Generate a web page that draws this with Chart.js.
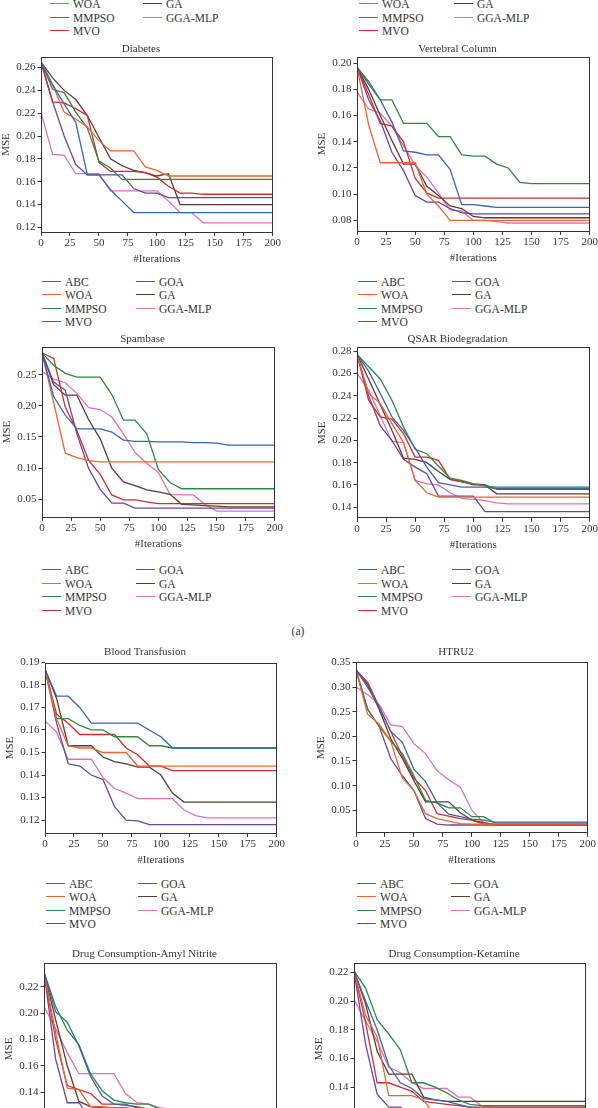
<!DOCTYPE html>
<html lang="en">
<head>
<meta charset="UTF-8">
<title>MSE convergence curves</title>
<script src="https://cdn.jsdelivr.net/npm/chart.js"></script>
<style>
    html, body { margin: 0; padding: 0; background: #fff; }
    body {
        width: 598px; height: 1108px; position: relative; overflow: hidden;
        font-family: 'Liberation Serif', 'DejaVu Serif', serif; color: #333;
    }
    canvas { position: absolute; }
    .item { position: absolute; height: 14px; line-height: 14px; font-size: 11.5px; white-space: nowrap; }
    .item .swatch { position: absolute; left: 0; top: 6px; width: 19px; height: 0; border-top: 1.5px solid; }
    .item .label { position: absolute; left: 23px; top: 0; }
    #tag { position: absolute; left: 288px; top: 625px; width: 20px; text-align: center; font-size: 11.5px; }
</style>
</head>
<body>
<div id="tag">(a)</div>
<script>
// ---- data ----
const iterations = [0, 10, 20, 30, 40, 50, 60, 70, 80, 90, 100, 110, 120, 130, 140, 150, 160, 170, 180, 190, 200];
const iterationTicks = [0, 25, 50, 75, 100, 125, 150, 175, 200];
const algorithms = ['ABC', 'WOA', 'MMPSO', 'MVO', 'GOA', 'GA', 'GGA-MLP'];

// one row per algorithm, in the order above
const diabetes = [
    [0.265,0.245,0.228,0.212,0.166,0.166,0.153,0.143,0.133,0.133,0.133, 0.133,0.133,0.133,0.133,0.133,0.133,0.133,0.133,0.133,0.133],
    [0.265,0.245,0.221,0.215,0.208,0.196,0.187,0.187,0.187,0.173,0.170, 0.165,0.165,0.165,0.165,0.165,0.165,0.165,0.165,0.165,0.165],
    [0.265,0.241,0.238,0.221,0.207,0.178,0.172,0.162,0.162,0.162,0.162, 0.162,0.162,0.162,0.162,0.162,0.162,0.162,0.162,0.162,0.162],
    [0.265,0.230,0.229,0.224,0.218,0.177,0.169,0.169,0.169,0.168,0.164, 0.156,0.150,0.150,0.149,0.149,0.149,0.149,0.149,0.149,0.149],
    [0.265,0.230,0.200,0.175,0.166,0.166,0.166,0.166,0.154,0.150,0.150, 0.146,0.146,0.146,0.146,0.146,0.146,0.146,0.146,0.146,0.146],
    [0.265,0.251,0.240,0.232,0.218,0.199,0.180,0.174,0.170,0.168,0.165, 0.167,0.140,0.140,0.140,0.140,0.140,0.140,0.140,0.140,0.140],
    [0.221,0.184,0.183,0.167,0.167,0.167,0.152,0.152,0.152,0.152,0.152, 0.143,0.133,0.133,0.124,0.124,0.124,0.124,0.124,0.124,0.124]
];
const vertebral = [
    [0.197,0.184,0.172,0.155,0.133,0.132,0.130,0.130,0.119,0.092,0.092, 0.091,0.090,0.090,0.090,0.090,0.090,0.090,0.090,0.090,0.090],
    [0.197,0.153,0.124,0.124,0.124,0.124,0.100,0.091,0.080,0.080,0.080, 0.080,0.080,0.080,0.080,0.080,0.080,0.080,0.080,0.080,0.080],
    [0.197,0.186,0.172,0.172,0.154,0.154,0.154,0.144,0.144,0.130,0.129, 0.129,0.123,0.120,0.109,0.108,0.108,0.108,0.108,0.108,0.108],
    [0.197,0.176,0.154,0.152,0.140,0.112,0.101,0.097,0.097,0.097,0.097, 0.097,0.097,0.097,0.097,0.097,0.097,0.097,0.097,0.097,0.097],
    [0.197,0.172,0.156,0.132,0.118,0.099,0.094,0.094,0.089,0.086,0.085, 0.085,0.085,0.085,0.085,0.085,0.085,0.085,0.085,0.085,0.085],
    [0.197,0.180,0.160,0.141,0.123,0.123,0.106,0.099,0.091,0.089,0.083, 0.082,0.082,0.082,0.082,0.082,0.082,0.082,0.082,0.082,0.082],
    [0.178,0.165,0.162,0.152,0.137,0.122,0.113,0.101,0.088,0.087,0.080, 0.080,0.079,0.078,0.078,0.078,0.078,0.078,0.078,0.078,0.078]
];
const spambase = [
    [0.285,0.215,0.185,0.163,0.163,0.163,0.158,0.145,0.143,0.143,0.142, 0.142,0.142,0.141,0.141,0.140,0.137,0.137,0.137,0.137,0.137],
    [0.285,0.205,0.124,0.117,0.112,0.110,0.110,0.110,0.110,0.110,0.110, 0.110,0.110,0.110,0.110,0.110,0.110,0.110,0.110,0.110,0.110],
    [0.285,0.265,0.252,0.246,0.246,0.246,0.218,0.177,0.177,0.155,0.098, 0.077,0.067,0.067,0.067,0.067,0.067,0.067,0.067,0.067,0.067],
    [0.285,0.276,0.198,0.160,0.113,0.090,0.057,0.049,0.049,0.046,0.043, 0.043,0.043,0.043,0.043,0.043,0.043,0.043,0.043,0.043,0.043],
    [0.285,0.238,0.225,0.155,0.100,0.066,0.044,0.044,0.036,0.036,0.036, 0.036,0.036,0.036,0.036,0.036,0.036,0.036,0.036,0.036,0.036],
    [0.285,0.234,0.217,0.217,0.178,0.147,0.100,0.078,0.072,0.065,0.062, 0.058,0.042,0.041,0.040,0.039,0.038,0.038,0.038,0.038,0.038],
    [0.255,0.243,0.237,0.220,0.197,0.194,0.182,0.155,0.125,0.108,0.093, 0.058,0.057,0.057,0.042,0.031,0.031,0.031,0.031,0.031,0.031]
];
const qsar = [
    [0.277,0.262,0.242,0.221,0.209,0.193,0.176,0.162,0.160,0.158,0.158, 0.158,0.157,0.157,0.157,0.157,0.157,0.157,0.157,0.157,0.157],
    [0.277,0.242,0.233,0.215,0.198,0.164,0.153,0.149,0.149,0.149,0.149, 0.149,0.149,0.149,0.149,0.149,0.149,0.149,0.149,0.149,0.149],
    [0.277,0.266,0.255,0.236,0.212,0.192,0.188,0.177,0.166,0.164,0.161, 0.159,0.158,0.158,0.158,0.158,0.158,0.158,0.158,0.158,0.158],
    [0.277,0.236,0.221,0.219,0.206,0.185,0.185,0.182,0.165,0.163,0.160, 0.160,0.156,0.156,0.156,0.156,0.156,0.156,0.156,0.156,0.156],
    [0.277,0.240,0.213,0.200,0.183,0.176,0.170,0.150,0.150,0.150,0.150, 0.136,0.136,0.136,0.136,0.136,0.136,0.136,0.136,0.136,0.136],
    [0.277,0.255,0.232,0.209,0.184,0.183,0.180,0.172,0.165,0.163,0.161, 0.160,0.152,0.152,0.152,0.152,0.152,0.152,0.152,0.152,0.152],
    [0.260,0.245,0.222,0.199,0.198,0.164,0.161,0.160,0.153,0.148,0.147, 0.146,0.144,0.143,0.143,0.143,0.143,0.143,0.143,0.143,0.143]
];
const blood = [
    [0.187,0.175,0.175,0.170,0.163,0.163,0.163,0.163,0.163,0.160,0.157, 0.152,0.152,0.152,0.152,0.152,0.152,0.152,0.152,0.152,0.152],
    [0.187,0.165,0.153,0.152,0.152,0.150,0.150,0.150,0.144,0.144,0.144, 0.144,0.144,0.144,0.144,0.144,0.144,0.144,0.144,0.144,0.144],
    [0.187,0.165,0.165,0.162,0.160,0.160,0.157,0.157,0.157,0.153,0.153, 0.152,0.152,0.152,0.152,0.152,0.152,0.152,0.152,0.152,0.152],
    [0.187,0.167,0.163,0.158,0.158,0.158,0.158,0.152,0.149,0.144,0.144, 0.142,0.142,0.142,0.142,0.142,0.142,0.142,0.142,0.142,0.142],
    [0.187,0.163,0.145,0.144,0.140,0.138,0.126,0.120,0.1197,0.118,0.118, 0.118,0.118,0.118,0.118,0.118,0.118,0.118,0.118,0.118,0.118],
    [0.187,0.174,0.153,0.153,0.153,0.148,0.146,0.145,0.1435,0.1435,0.140, 0.132,0.128,0.128,0.128,0.128,0.128,0.128,0.128,0.128,0.128],
    [0.164,0.159,0.147,0.147,0.147,0.139,0.134,0.132,0.1295,0.1295,0.1295, 0.1295,0.1245,0.122,0.121,0.121,0.121,0.121,0.121,0.121,0.121]
];
const htru2 = [
    [0.335,0.300,0.260,0.210,0.188,0.133,0.108,0.065,0.042,0.037,0.032, 0.030,0.026,0.026,0.026,0.026,0.026,0.026,0.026,0.026,0.026],
    [0.335,0.245,0.225,0.190,0.115,0.090,0.043,0.033,0.028,0.023,0.022, 0.022,0.022,0.022,0.022,0.022,0.022,0.022,0.022,0.022,0.022],
    [0.335,0.255,0.220,0.190,0.165,0.120,0.070,0.065,0.055,0.055,0.037, 0.037,0.024,0.024,0.024,0.024,0.024,0.024,0.024,0.024,0.024],
    [0.335,0.310,0.260,0.210,0.160,0.115,0.090,0.043,0.038,0.033,0.030, 0.022,0.021,0.021,0.021,0.021,0.021,0.021,0.021,0.021,0.021],
    [0.335,0.255,0.220,0.155,0.120,0.090,0.033,0.022,0.020,0.020,0.020, 0.020,0.020,0.020,0.020,0.020,0.020,0.020,0.020,0.020,0.020],
    [0.335,0.305,0.255,0.195,0.155,0.110,0.067,0.067,0.067,0.045,0.030, 0.025,0.021,0.021,0.021,0.021,0.021,0.021,0.021,0.021,0.021],
    [0.300,0.285,0.265,0.223,0.220,0.185,0.165,0.130,0.112,0.097,0.050, 0.025,0.021,0.021,0.021,0.021,0.021,0.021,0.021,0.021,0.021]
];
const amylNitrite = [
    [0.231,0.201,0.193,0.175,0.152,0.137,0.131,0.131,0.128,0.127,0.126, 0.125,0.124,0.124,0.124,0.124,0.124,0.124,0.124,0.124,0.124],
    [0.231,0.185,0.143,0.142,0.129,0.129,0.128,0.127,0.126,0.124,0.122, 0.121,0.121,0.121,0.121,0.121,0.121,0.121,0.121,0.121,0.121],
    [0.231,0.205,0.187,0.176,0.154,0.141,0.134,0.132,0.131,0.131,0.127, 0.127,0.126,0.126,0.126,0.126,0.126,0.126,0.126,0.126,0.126],
    [0.231,0.180,0.145,0.142,0.139,0.131,0.131,0.130,0.129,0.127,0.126, 0.125,0.123,0.123,0.123,0.123,0.123,0.123,0.123,0.123,0.123],
    [0.231,0.165,0.132,0.132,0.120,0.118,0.117,0.116,0.115,0.115,0.115, 0.115,0.115,0.115,0.115,0.115,0.115,0.115,0.115,0.115,0.115],
    [0.231,0.195,0.160,0.133,0.129,0.128,0.128,0.128,0.127,0.126,0.125, 0.124,0.122,0.122,0.122,0.122,0.122,0.122,0.122,0.122,0.122],
    [0.205,0.188,0.170,0.154,0.154,0.154,0.154,0.139,0.132,0.131,0.128, 0.127,0.125,0.125,0.125,0.125,0.125,0.125,0.125,0.125,0.125]
];
const ketamine = [
    [0.221,0.200,0.180,0.155,0.143,0.139,0.132,0.131,0.130,0.128,0.126, 0.125,0.125,0.125,0.125,0.125,0.125,0.125,0.125,0.125,0.125],
    [0.221,0.190,0.175,0.134,0.134,0.134,0.131,0.120,0.119,0.118,0.118, 0.118,0.118,0.118,0.118,0.118,0.118,0.118,0.118,0.118,0.118],
    [0.221,0.209,0.187,0.177,0.166,0.143,0.143,0.140,0.136,0.131,0.128, 0.127,0.127,0.127,0.127,0.127,0.127,0.127,0.127,0.127,0.127],
    [0.221,0.185,0.143,0.143,0.140,0.137,0.130,0.129,0.128,0.127,0.126, 0.126,0.126,0.126,0.126,0.126,0.126,0.126,0.126,0.126,0.126],
    [0.221,0.170,0.135,0.126,0.126,0.120,0.119,0.118,0.117,0.117,0.117, 0.117,0.117,0.117,0.117,0.117,0.117,0.117,0.117,0.117,0.117],
    [0.221,0.198,0.165,0.149,0.149,0.149,0.133,0.131,0.130,0.130,0.130, 0.130,0.130,0.130,0.130,0.130,0.130,0.130,0.130,0.130,0.130],
    [0.201,0.186,0.172,0.154,0.150,0.143,0.139,0.139,0.139,0.133,0.133, 0.127,0.126,0.126,0.126,0.126,0.126,0.126,0.126,0.126,0.126]
];

// y tick labels per chart
const diabetesTicks = [0.12, 0.14, 0.16, 0.18, 0.20, 0.22, 0.24, 0.26];
const vertebralTicks = [0.08, 0.10, 0.12, 0.14, 0.16, 0.18, 0.20];
const spambaseTicks = [0.05, 0.10, 0.15, 0.20, 0.25];
const qsarTicks = [0.14, 0.16, 0.18, 0.20, 0.22, 0.24, 0.26, 0.28];
const bloodTicks = [0.12, 0.13, 0.14, 0.15, 0.16, 0.17, 0.18, 0.19];
const htru2Ticks = [0.05, 0.10, 0.15, 0.20, 0.25, 0.30, 0.35];
const drugTicks = [0.12, 0.14, 0.16, 0.18, 0.20, 0.22];

// ---- style / layout ----
const colors = ['#3866b0', '#f4632d', '#2b8a3e', '#d42a2f', '#6a45a0', '#5b3a33', '#e070b8'];
const FONT = "'Liberation Serif', 'DejaVu Serif', serif";
const INK = '#333';

Chart.defaults.font.family = FONT;
Chart.defaults.color = INK;

// box = plot area [left, top, right, bottom] on the page
const panels = [
    { title: 'Diabetes', series: diabetes, yMin: 0.1156, yMax: 0.2696, yTicks: diabetesTicks, box: [41, 57, 273, 233], titleGap: 7 },
    { title: 'Vertebral Column', series: vertebral, yMin: 0.0716, yMax: 0.205, yTicks: vertebralTicks, box: [357, 57, 590, 232], titleGap: 7 },
    { title: 'Spambase', series: spambase, yMin: 0.021, yMax: 0.295, yTicks: spambaseTicks, box: [42, 347, 275, 518], titleGap: 7 },
    { title: 'QSAR Biodegradation', series: qsar, yMin: 0.130, yMax: 0.2836, yTicks: qsarTicks, box: [357, 347, 590, 518], titleGap: 7.5 },
    { title: 'Blood Transfusion', series: blood, yMin: 0.1141, yMax: 0.1899, yTicks: bloodTicks, box: [45, 663, 277, 834], titleGap: 10 },
    { title: 'HTRU2', series: htru2, yMin: 0.003, yMax: 0.3507, yTicks: htru2Ticks, box: [356, 662, 588, 833], titleGap: 9.5 },
    { title: 'Drug Consumption-Amyl Nitrite', series: amylNitrite, yMin: 0.108, yMax: 0.2377, yTicks: drugTicks, box: [44, 963, 277, 1134], titleGap: 8.7 },
    { title: 'Drug Consumption-Ketamine', series: ketamine, yMin: 0.107, yMax: 0.2263, yTicks: drugTicks, box: [354, 963, 586, 1134], titleGap: 8.7 }
];

// legend blocks: first line start of each column, centre of first row
const legendBlocks = [
    { x1: 50, x2: 143, y0: -9.5 },
    { x1: 359, x2: 454, y0: -9.5 },
    { x1: 42, x2: 136, y0: 281.5 },
    { x1: 358, x2: 452, y0: 281.5 },
    { x1: 42, x2: 136, y0: 570 },
    { x1: 358, x2: 452, y0: 570 },
    { x1: 46, x2: 138, y0: 883.5 },
    { x1: 357, x2: 451, y0: 883.5 }
];

// draws the closed frame around the plot area
const framePlugin = {
    id: 'frame',
    afterDraw(chart) {
        const { ctx, chartArea: a } = chart;
        ctx.save();
        ctx.strokeStyle = INK;
        ctx.lineWidth = 1;
        ctx.strokeRect(Math.round(a.left) + 0.5, Math.round(a.top) + 0.5,
            Math.round(a.right - a.left) - 1, Math.round(a.bottom - a.top) - 1);
        ctx.restore();
    }
};

function makeConfig(p) {
    return {
        type: 'line',
        data: {
            datasets: p.series.map((vals, i) => ({
                label: algorithms[i],
                data: iterations.map((it, k) => ({ x: it, y: vals[k] })),
                borderColor: colors[i],
                borderWidth: 1.3,
                pointRadius: 0,
                tension: 0,
                fill: false
            }))
        },
        options: {
            responsive: false,
            maintainAspectRatio: false,
            animation: false,
            devicePixelRatio: 1,
            events: [],
            layout: { padding: 0 },
            plugins: {
                legend: { display: false },
                tooltip: { enabled: false },
                title: {
                    display: true,
                    text: p.title,
                    color: INK,
                    font: { family: FONT, size: 11, weight: 'normal' },
                    padding: { top: 3, bottom: p.titleGap - 6.6 }
                }
            },
            scales: {
                x: {
                    type: 'linear',
                    min: 0,
                    max: 200,
                    afterBuildTicks: s => { s.ticks = iterationTicks.map(v => ({ value: v })); },
                    afterFit: s => { s.height = 33.6; },
                    ticks: { font: { size: 11 }, color: INK, padding: 1, maxRotation: 0, autoSkip: false, callback: v => String(v) },
                    grid: { drawOnChartArea: false, drawTicks: true, tickLength: 3.5, color: INK },
                    border: { display: false },
                    title: { display: true, text: '#Iterations', color: INK, font: { size: 11 }, padding: 0 }
                },
                y: {
                    type: 'linear',
                    min: p.yMin,
                    max: p.yMax,
                    afterBuildTicks: s => { s.ticks = p.yTicks.map(v => ({ value: v })); },
                    afterFit: s => { s.width = 41; },
                    ticks: { font: { size: 11 }, color: INK, padding: 2, autoSkip: false, callback: v => v.toFixed(2) },
                    grid: { drawOnChartArea: false, drawTicks: true, tickLength: 3.5, color: INK },
                    border: { display: false },
                    title: { display: true, text: 'MSE', color: INK, font: { size: 11 }, padding: 0 }
                }
            }
        },
        plugins: [framePlugin]
    };
}

function setSize(canvas, w, h) {
    canvas.width = w;
    canvas.height = h;
    canvas.style.width = w + 'px';
    canvas.style.height = h + 'px';
}

// build once to measure the chart area, then rebuild at the size that puts the plot on its box
function buildPanel(p) {
    const [L, T, R, B] = p.box;
    const canvas = document.createElement('canvas');
    document.body.appendChild(canvas);
    let w = R - L + 70, h = B - T + 70;
    setSize(canvas, w, h);
    let chart = new Chart(canvas, makeConfig(p));
    let ca = chart.chartArea;
    w = Math.round(w + (R - L) - (ca.right - ca.left));
    h = Math.round(h + (B - T) - (ca.bottom - ca.top));
    chart.destroy();
    setSize(canvas, w, h);
    chart = new Chart(canvas, makeConfig(p));
    ca = chart.chartArea;
    canvas.style.left = Math.round(L - ca.left) + 'px';
    canvas.style.top = Math.round(T - ca.top) + 'px';
}

function buildLegend(block) {
    const rowStep = 13.5;
    algorithms.forEach((name, i) => {
        const col = i < 4 ? 0 : 1;
        const row = i < 4 ? i : i - 4;
        const item = document.createElement('div');
        item.className = 'item';
        item.style.left = (col === 0 ? block.x1 : block.x2) + 'px';
        item.style.top = (block.y0 + row * rowStep - 7) + 'px';
        const sw = document.createElement('span');
        sw.className = 'swatch';
        sw.style.borderTopColor = colors[i];
        const lb = document.createElement('span');
        lb.className = 'label';
        lb.textContent = name;
        item.appendChild(sw);
        item.appendChild(lb);
        document.body.appendChild(item);
    });
}

panels.forEach(buildPanel);
legendBlocks.forEach(buildLegend);
</script>
</body>
</html>
